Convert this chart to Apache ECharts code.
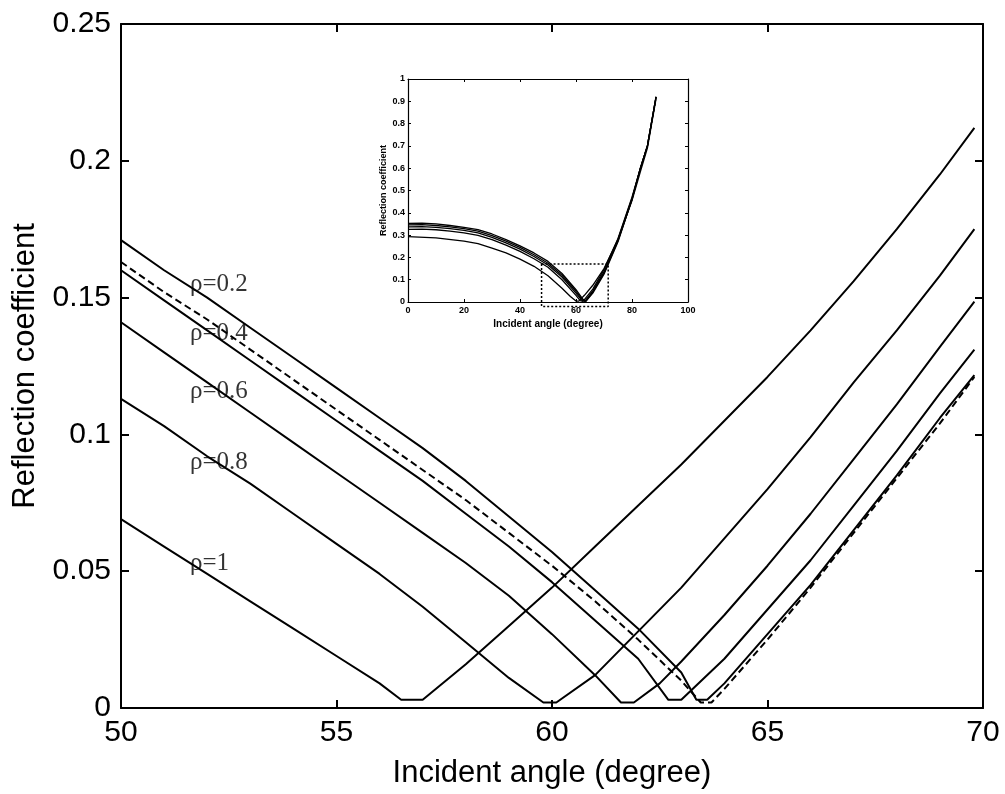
<!DOCTYPE html>
<html>
<head>
<meta charset="utf-8">
<script src="https://cdn.jsdelivr.net/npm/echarts@6/dist/echarts.min.js"></script>
<style>
  html, body { margin: 0; padding: 0; background: #fff; }
  #chart { width: 1005px; height: 794px; }
</style>
</head>
<body>
<div id="chart"></div>
<script>
// Reflection coefficient vs incident angle, close-up of the 50–70° range
const rho02 = [[50,0.171],[51,0.160],[52,0.150],[53,0.139],[54,0.128],[55,0.117],[56,0.106],[57,0.095],[58,0.083],[59,0.070],[60,0.057],[61,0.043],[62,0.029],[63,0.013],[63.35,0.003],[63.6,0.003],[64,0.009],[65,0.027],[66,0.045],[67,0.065],[68,0.085],[69,0.106],[69.8,0.1217]];
const rho04 = [[50,0.160],[51,0.149],[52,0.138],[53,0.127],[54,0.116],[55,0.105],[56,0.094],[57,0.083],[58,0.071],[59,0.059],[60,0.046],[61,0.032],[62,0.018],[62.7,0.003],[63.0,0.003],[64,0.018],[65,0.036],[66,0.054],[67,0.074],[68,0.094],[69,0.115],[69.8,0.131]];
const rho06 = [[50,0.141],[51,0.130],[52,0.119],[53,0.108],[54,0.097],[55,0.086],[56,0.075],[57,0.064],[58,0.053],[59,0.041],[60,0.027],[61,0.012],[61.6,0.002],[61.9,0.002],[62.5,0.009],[63,0.017],[64,0.034],[65,0.052],[66,0.071],[67,0.091],[68,0.111],[69,0.132],[69.8,0.1485]];
const rho08 = [[50,0.113],[51,0.103],[52,0.092],[53,0.082],[54,0.071],[55,0.060],[56,0.049],[57,0.037],[58,0.024],[59,0.011],[59.8,0.002],[60.1,0.002],[61,0.012],[62,0.028],[63,0.044],[64,0.062],[65,0.080],[66,0.099],[67,0.119],[68,0.138],[69,0.158],[69.8,0.175]];
const rho10 = [[50,0.069],[51,0.059],[52,0.049],[53,0.039],[54,0.029],[55,0.019],[56,0.009],[56.5,0.003],[57,0.003],[58,0.016],[59,0.030],[60,0.044],[61,0.059],[62,0.074],[63,0.089],[64,0.105],[65,0.121],[66,0.138],[67,0.156],[68,0.175],[69,0.195],[69.8,0.212]];
const dashedCurve = [[50,0.163],[51,0.152],[52,0.142],[53,0.131],[54,0.120],[55,0.109],[56,0.098],[57,0.087],[58,0.076],[59,0.064],[60,0.052],[61,0.039],[62,0.025],[63,0.010],[63.45,0.002],[63.7,0.002],[64,0.007],[65,0.025],[66,0.044],[67,0.064],[68,0.084],[69,0.104],[69.8,0.121]];

// Curve labels and their anchor points (angle, coefficient)
const rhoLabels = ['ρ=0.2', 'ρ=0.4', 'ρ=0.6', 'ρ=0.8', 'ρ=1'];
const labelAngles = [51.6, 51.6, 51.6, 51.6, 51.6];
const labelValues = [0.1547, 0.1368, 0.1156, 0.0898, 0.0529];

// Full-range inset, 0–90°
const insetRho02 = [[0,0.352],[5,0.354],[10,0.350],[15,0.343],[20,0.335],[25,0.325],[30,0.305],[35,0.280],[40,0.252],[45,0.220],[50,0.182],[55,0.128],[60,0.055],[62.5,0.012],[63.5,0.003],[64,0.003],[66,0.040],[70,0.125],[75,0.270],[80,0.460],[83,0.600],[85.5,0.700],[88.6,0.920]];
const insetRho04 = [[0,0.346],[5,0.347],[10,0.343],[15,0.337],[20,0.329],[25,0.318],[30,0.298],[35,0.273],[40,0.245],[45,0.212],[50,0.174],[55,0.120],[60,0.048],[62.3,0.010],[63,0.003],[63.5,0.003],[66,0.045],[70,0.130],[75,0.275],[80,0.460],[83,0.600],[85.5,0.700],[88.6,0.920]];
const insetRho06 = [[0,0.337],[5,0.338],[10,0.335],[15,0.329],[20,0.321],[25,0.310],[30,0.290],[35,0.265],[40,0.237],[45,0.204],[50,0.166],[55,0.112],[60,0.040],[62,0.008],[62.6,0.003],[63.1,0.003],[66,0.050],[70,0.135],[75,0.280],[80,0.465],[83,0.600],[85.5,0.700],[88.6,0.920]];
const insetRho08 = [[0,0.326],[5,0.327],[10,0.324],[15,0.318],[20,0.310],[25,0.299],[30,0.280],[35,0.255],[40,0.227],[45,0.194],[50,0.156],[55,0.100],[60,0.030],[61.5,0.006],[62,0.003],[62.5,0.003],[66,0.058],[70,0.145],[75,0.285],[80,0.470],[83,0.600],[85.5,0.700],[88.6,0.920]];
const insetRho10 = [[0,0.293],[10,0.288],[20,0.273],[25,0.262],[30,0.242],[35,0.220],[40,0.192],[45,0.160],[50,0.118],[55,0.062],[58,0.025],[60,0.004],[61,0.004],[63,0.030],[66,0.075],[70,0.150],[75,0.280],[80,0.455],[83,0.585],[85.5,0.690],[88.5,0.905]];
// Dotted box marking the zoomed region
const zoomBox = [[47.7,0.17],[71.5,0.17],[71.5,-0.02],[47.7,-0.02],[47.7,0.17]];

const chart = echarts.init(document.getElementById('chart'), null, { renderer: 'canvas' });

const black = '#000';
const sans = 'Liberation Sans, Arial, sans-serif';

function mainAxis(extra) {
  return Object.assign({
    type: 'value',
    gridIndex: 0,
    splitLine: { show: false },
    axisLine: { show: true, onZero: false, lineStyle: { color: black, width: 2 } },
    axisTick: { show: true, inside: true, length: 8, lineStyle: { color: black, width: 2 } },
    axisLabel: { show: false },
  }, extra);
}
function insetAxis(extra) {
  return Object.assign({
    type: 'value',
    gridIndex: 1,
    splitLine: { show: false },
    axisLine: { show: true, onZero: false, lineStyle: { color: black, width: 1.2 } },
    axisTick: { show: true, inside: true, length: 3, lineStyle: { color: black, width: 1 } },
    axisLabel: { show: false },
  }, extra);
}

const mainLine = (name, data, dashed) => ({
  name, type: 'line', xAxisIndex: 0, yAxisIndex: 0, data,
  showSymbol: false, symbol: 'none', smooth: false,
  lineStyle: { color: black, width: 2, type: dashed ? [7, 4] : 'solid' },
  z: 3,
});
const insetLine = (name, data) => ({
  name, type: 'line', xAxisIndex: 2, yAxisIndex: 2, data,
  showSymbol: false, symbol: 'none',
  lineStyle: { color: black, width: 1.3 },
  z: 3,
});

const option = {
  animation: false,
  backgroundColor: '#fff',
  grid: [
    { left: 121, right: 22, top: 24, bottom: 86, outerBoundsMode: 'none', show: false },
    { left: 408, right: 317, top: 79, bottom: 492, outerBoundsMode: 'none', show: true, backgroundColor: '#fff', borderWidth: 0 },
  ],
  xAxis: [
    mainAxis({
      position: 'bottom', min: 50, max: 70, interval: 5,
      axisLabel: { show: true, color: black, fontSize: 30, fontFamily: sans, margin: 10 },
      name: 'Incident angle (degree)', nameLocation: 'middle', nameGap: 50,
      nameTextStyle: { color: black, fontSize: 31, fontFamily: sans },
    }),
    mainAxis({ position: 'top', min: 50, max: 70, interval: 5 }),
    insetAxis({
      position: 'bottom', min: 0, max: 100, interval: 20,
      axisLabel: { show: true, color: black, fontSize: 9, fontWeight: 'bold', fontFamily: sans, margin: 4 },
      name: 'Incident angle (degree)', nameLocation: 'middle', nameGap: 17,
      nameTextStyle: { color: black, fontSize: 10, fontWeight: 'bold', fontFamily: sans },
    }),
    insetAxis({ position: 'top', min: 0, max: 100, interval: 20 }),
  ],
  yAxis: [
    mainAxis({
      position: 'left', min: 0, max: 0.25, interval: 0.05,
      axisLabel: { show: true, color: black, fontSize: 30, fontFamily: sans, margin: 10 },
      name: 'Reflection coefficient', nameLocation: 'middle', nameGap: 80, nameRotate: 90,
      nameTextStyle: { color: black, fontSize: 31, fontFamily: sans },
    }),
    mainAxis({ position: 'right', min: 0, max: 0.25, interval: 0.05 }),
    insetAxis({
      position: 'left', min: 0, max: 1, interval: 0.1,
      axisLabel: { show: true, color: black, fontSize: 9, fontWeight: 'bold', fontFamily: sans, margin: 3 },
      name: 'Reflection coefficient', nameLocation: 'middle', nameGap: 20, nameRotate: 90,
      nameTextStyle: { color: black, fontSize: 9, fontWeight: 'bold', fontFamily: sans },
    }),
    insetAxis({ position: 'right', min: 0, max: 1, interval: 0.1 }),
  ],
  series: [
    mainLine('ρ=0.2', rho02),
    mainLine('ρ=0.4', rho04),
    mainLine('ρ=0.6', rho06),
    mainLine('ρ=0.8', rho08),
    mainLine('ρ=1', rho10),
    mainLine('dashed', dashedCurve, true),
    {
      name: 'labels', type: 'scatter', xAxisIndex: 0, yAxisIndex: 0,
      symbolSize: 0, silent: true, z: 5,
      data: rhoLabels.map((t, i) => [labelAngles[i], labelValues[i], t]),
      label: {
        show: true, position: 'right', distance: 0,
        formatter: p => p.value[2],
        color: black, fontSize: 25, fontFamily: 'Liberation Serif, Times New Roman, serif',
        verticalAlign: 'middle',
      },
    },
    insetLine('inset ρ=0.2', insetRho02),
    insetLine('inset ρ=0.4', insetRho04),
    insetLine('inset ρ=0.6', insetRho06),
    insetLine('inset ρ=0.8', insetRho08),
    insetLine('inset ρ=1', insetRho10),
    {
      name: 'zoom box', type: 'line', xAxisIndex: 2, yAxisIndex: 2,
      data: zoomBox, showSymbol: false, symbol: 'none', clip: false,
      lineStyle: { color: black, width: 1.5, type: [2, 2] }, z: 4,
    },
  ],
};

chart.setOption(option);
</script>
</body>
</html>
